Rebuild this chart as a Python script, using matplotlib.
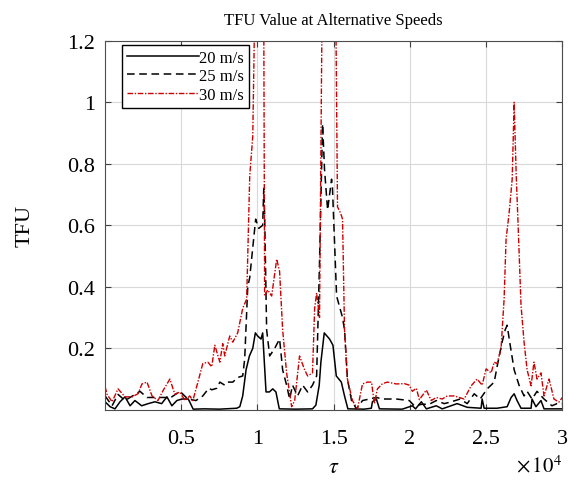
import matplotlib
matplotlib.use("Agg")
import matplotlib.pyplot as plt

# 20 m/s
tau_20 = [0, 330, 650, 980, 1310, 1640, 1960, 2400, 2830, 3270, 3710, 4060,
          4380, 4710, 5040, 5460, 5780, 6500, 7500, 8640, 8840, 9030, 9250,
          9470, 9690, 9860, 10010, 10230, 10340, 10560, 10780, 11000, 11210,
          11430, 12500, 13610, 13830, 14050, 14160, 14380, 14730, 14950,
          15170, 15500, 15710, 15930, 17000, 17470, 17540, 17800, 18000,
          19500, 20160, 20370, 20750, 21080, 21730, 22120, 23100, 23760,
          24670, 24740, 24870, 25720, 26380, 26640, 26840, 27030, 27290,
          27950, 28010, 28270, 28600, 28800, 30000]
tfu_20 = [0.026, 0.01, 0.003, 0.026, 0.042, 0.013, 0.03, 0.013, 0.02, 0.026,
          0.02, 0.042, 0.013, 0.03, 0.035, 0.035, 0.002, 0.003, 0.002, 0.005,
          0.01, 0.045, 0.13, 0.175, 0.2, 0.25, 0.24, 0.23, 0.25, 0.058,
          0.058, 0.068, 0.058, 0.003, 0.002, 0.003, 0.015, 0.08, 0.155, 0.25,
          0.23, 0.21, 0.11, 0.09, 0.045, 0.003, 0.002, 0.005, 0.026, 0.035,
          0.003, 0.002, 0.013, 0.003, 0.026, 0.003, 0.013, 0.003, 0.02,
          0.008, 0.005, 0.035, 0.005, 0.005, 0.01, 0.04, 0.052, 0.03, 0.005,
          0.005, 0.035, 0.01, 0.03, 0.003, 0.003]

# 25 m/s
tau_25 = [0, 460, 850, 1310, 2290, 2750, 3730, 4320, 4910, 5430, 5960, 6410,
          6810, 7000, 7330, 7530, 7850, 8050, 8380, 8700, 9030, 9160, 9360,
          9490, 9880, 10080, 10340, 10410, 10470, 10600, 10800, 11130, 11450,
          11650, 11910, 12110, 12300, 12630, 12960, 13290, 13610, 13880,
          14070, 14270, 14400, 14600, 14860, 14920, 15190, 15580, 15710,
          15900, 16170, 16490, 16890, 17340, 17800, 18200, 19110, 19960,
          20290, 20810, 21270, 21730, 22250, 22650, 23300, 23760, 24220,
          24610, 25070, 25530, 25720, 26050, 26250, 26380, 26580, 26840,
          27160, 27490, 27690, 28010, 28340, 28800, 29320, 29650, 30000]
tfu_25 = [0.045, 0.013, 0.05, 0.03, 0.06, 0.04, 0.04, 0.04, 0.06, 0.035,
          0.03, 0.045, 0.07, 0.065, 0.07, 0.09, 0.08, 0.09, 0.09, 0.105, 0.11,
          0.165, 0.40, 0.43, 0.62, 0.59, 0.60, 0.72, 0.63, 0.26, 0.175, 0.20,
          0.23, 0.13, 0.08, 0.035, 0.08, 0.045, 0.08, 0.058, 0.08, 0.11,
          0.48, 0.93, 0.78, 0.65, 0.75, 0.72, 0.37, 0.30, 0.26, 0.10, 0.03,
          0.003, 0.03, 0.035, 0.04, 0.035, 0.035, 0.03, 0.013, 0.018, 0.018,
          0.03, 0.02, 0.025, 0.035, 0.02, 0.052, 0.035, 0.068, 0.09, 0.14,
          0.22, 0.26, 0.275, 0.21, 0.13, 0.08, 0.045, 0.06, 0.035, 0.06,
          0.035, 0.013, 0.02, 0.02]

# 30 m/s
tau_30 = [0, 130, 460, 850, 1310, 1770, 2160, 2420, 2750, 3080, 3470, 3800,
          4250, 4580, 4910, 5240, 5560, 5760, 6090, 6410, 6740, 7000, 7200,
          7530, 7720, 7850, 8180, 8380, 8700, 9030, 9290, 9490, 9690, 9880,
          10140, 10410, 10470, 10670, 10930, 11260, 11450, 11650, 11910,
          12240, 12440, 12760, 13090, 13290, 13610, 13750, 13880, 14070,
          14270, 14730, 15120, 15250, 15450, 15580, 15710, 15900, 16230,
          16560, 16890, 17210, 17480, 17670, 17870, 18200, 18520, 19110,
          19640, 19960, 20160, 20420, 20620, 21080, 21400, 21730, 22120,
          22450, 22910, 23560, 24020, 24410, 24740, 25000, 25330, 25530,
          25720, 25980, 26180, 26310, 26510, 26710, 26840, 26970, 27100,
          27290, 27490, 27690, 27950, 28140, 28340, 28600, 28800, 29130,
          29450, 29780, 30000]
tfu_30 = [0.075, 0.05, 0.026, 0.068, 0.042, 0.042, 0.052, 0.084, 0.09, 0.045,
          0.03, 0.062, 0.10, 0.05, 0.058, 0.03, 0.045, 0.03, 0.09, 0.15,
          0.155, 0.14, 0.21, 0.155, 0.215, 0.175, 0.24, 0.22, 0.25, 0.33,
          0.36, 0.76, 0.89, 1.5, 1.6, 1.3, 0.37, 0.39, 0.37, 0.49, 0.45, 0.26,
          0.12, 0.01, 0.03, 0.175, 0.13, 0.11, 0.12, 0.33, 0.38, 0.30, 1.5,
          1.8, 1.4, 0.66, 0.64, 0.62, 0.26, 0.10, 0.03, 0.003, 0.084, 0.09,
          0.09, 0.02, 0.068, 0.085, 0.09, 0.084, 0.085, 0.08, 0.06, 0.07,
          0.033, 0.064, 0.03, 0.04, 0.035, 0.045, 0.045, 0.035, 0.078, 0.10,
          0.08, 0.133, 0.12, 0.155, 0.15, 0.2, 0.36, 0.555, 0.64, 0.75, 1.0,
          0.77, 0.6, 0.34, 0.22, 0.13, 0.078, 0.155, 0.10, 0.12, 0.045, 0.10,
          0.035, 0.025, 0.04]

plt.rcParams['font.family'] = ['Liberation Serif', 'DejaVu Serif']
plt.rcParams['mathtext.fontset'] = 'stix'

fig = plt.figure(figsize=(5.68, 4.81), dpi=100)
ax = fig.add_axes([0.185, 0.146, 0.805, 0.767])

ax.plot(tau_20, tfu_20, color='black', lw=1.1, ls='-', label='20 m/s')
ax.plot(tau_25, tfu_25, color='black', lw=1.1, ls=(0, (5, 3)),
        label='25 m/s')
ax.plot(tau_30, tfu_30, color='#cc0000', lw=1.0, ls=(0, (4, 1.2, 1, 1.2)),
        label='30 m/s')

ax.set_xlim(0, 30000)
ax.set_ylim(0, 1.2)
ax.set_xticks([5000, 10000, 15000, 20000, 25000, 30000])
ax.set_xticklabels(['0.5', '1', '1.5', '2', '2.5', '3'])
ax.set_yticks([0.2, 0.4, 0.6, 0.8, 1.0, 1.2])
ax.set_yticklabels(['0.2', '0.4', '0.6', '0.8', '1', '1.2'])
ax.tick_params(direction='in', top=True, right=True, labelsize=16,
               length=4, color='0.25')
ax.tick_params(axis='x', pad=14)
ax.tick_params(axis='y', pad=7)
ax.grid(True, color='0.85', lw=0.8)
for s in ax.spines.values():
    s.set_color('0.3')
    s.set_linewidth(0.8)

ax.set_title('TFU Value at Alternative Speeds', fontsize=12, pad=12)
ax.set_ylabel('TFU', fontsize=16, labelpad=24)
ax.set_xlabel(r'$\tau$', fontsize=16, labelpad=7)
ax.text(1.0, -0.152, r'$\times\,10^4$', transform=ax.transAxes,
        ha='right', va='center', fontsize=15)

leg = ax.legend(loc='upper left', bbox_to_anchor=(0.037, 0.99),
                fontsize=12, handlelength=4.3, handletextpad=0.0,
                labelspacing=0.15, borderpad=0.3, fancybox=False,
                framealpha=1, edgecolor='black', borderaxespad=0)
leg.get_frame().set_linewidth(1.0)

fig.savefig('out.png', dpi=100)
